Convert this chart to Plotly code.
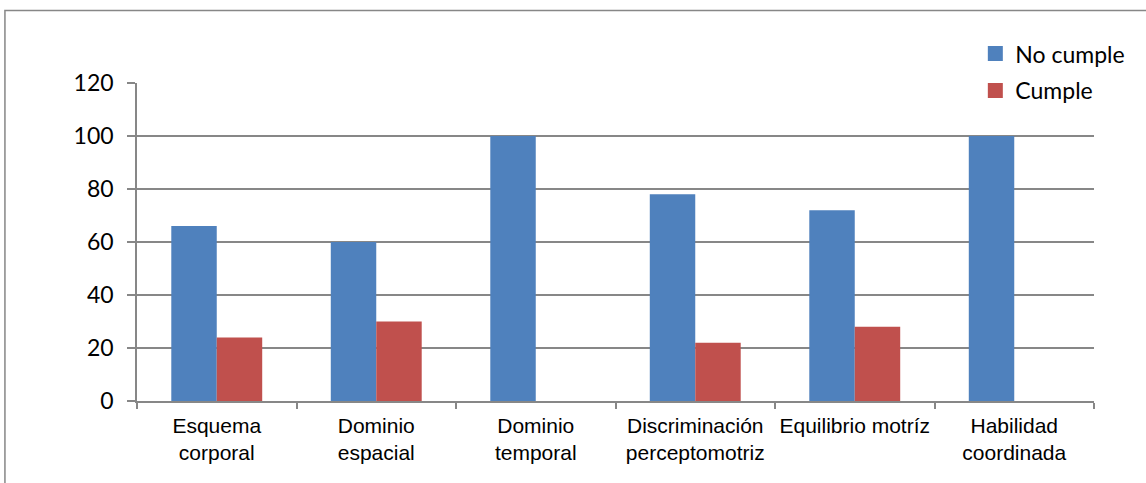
import plotly.graph_objects as go

categories = ["Esquema<br>corporal", "Dominio<br>espacial", "Dominio<br>temporal",
              "Discriminación<br>perceptomotriz", "Equilibrio motríz", "Habilidad<br>coordinada"]
series_names = ["No cumple", "Cumple"]
no_cumple = [66, 60, 100, 78, 72, 100]
cumple = [24, 30, 0, 22, 28, 0]
y_ticks = [0, 20, 40, 60, 80, 100, 120]

colors = ["#4F81BD", "#C0504D"]

fig = go.Figure()
for name, vals, col in zip(series_names, [no_cumple, cumple], colors):
    fig.add_trace(go.Bar(x=categories, y=vals, name=name, marker_color=col,
                         marker_line_width=0, showlegend=False))
# legend entries (square swatches)
for name, col in zip(series_names, colors):
    fig.add_trace(go.Scatter(x=[None], y=[None], mode="markers", name=name, legendgroup=name,
                             marker=dict(symbol="square", size=15, color=col), showlegend=True))

grid = "#878787"
fig.update_layout(
    width=1146, height=483,
    margin=dict(l=137, r=52, t=83, b=82, autoexpand=False),
    paper_bgcolor="white", plot_bgcolor="white",
    barmode="group", bargap=0.43, bargroupgap=0,
    legend=dict(x=0.876, y=1.16, xanchor="left", yanchor="top",
                font=dict(family="Lato, Open Sans, sans-serif", size=23, color="#000000"),
                bgcolor="rgba(0,0,0,0)", tracegroupgap=4, traceorder="grouped", itemwidth=30),
    font=dict(family="Liberation Sans, Arial, sans-serif", color="#000000"),
)
fig.update_yaxes(range=[0, 120], tickvals=y_ticks, showgrid=True, gridcolor=grid, gridwidth=1.5,
                 showline=True, linecolor=grid, linewidth=1.5, ticks="outside", ticklen=8,
                 tickcolor=grid, tickwidth=1.5, zeroline=False, ticklabelstandoff=9,
                 automargin=False,
                 tickfont=dict(family="Lato, Open Sans, sans-serif", size=23, color="#000000"))
fig.update_xaxes(showline=True, linecolor=grid, linewidth=1.5, ticks="outside", ticklen=6,
                 tickcolor=grid, tickwidth=1.5, tickson="boundaries", showgrid=False,
                 ticklabelstandoff=5, tickangle=0, automargin=False,
                 tickfont=dict(family="Liberation Sans, Arial, sans-serif", size=21, color="#000000"))

# outer chart border
fig.add_shape(type="rect", xref="paper", yref="paper", x0=-0.138, x1=1.2, y0=-0.4, y1=1.228,
              line=dict(color=grid, width=1.5), fillcolor="rgba(0,0,0,0)", layer="below")

fig.write_html("out.html")
